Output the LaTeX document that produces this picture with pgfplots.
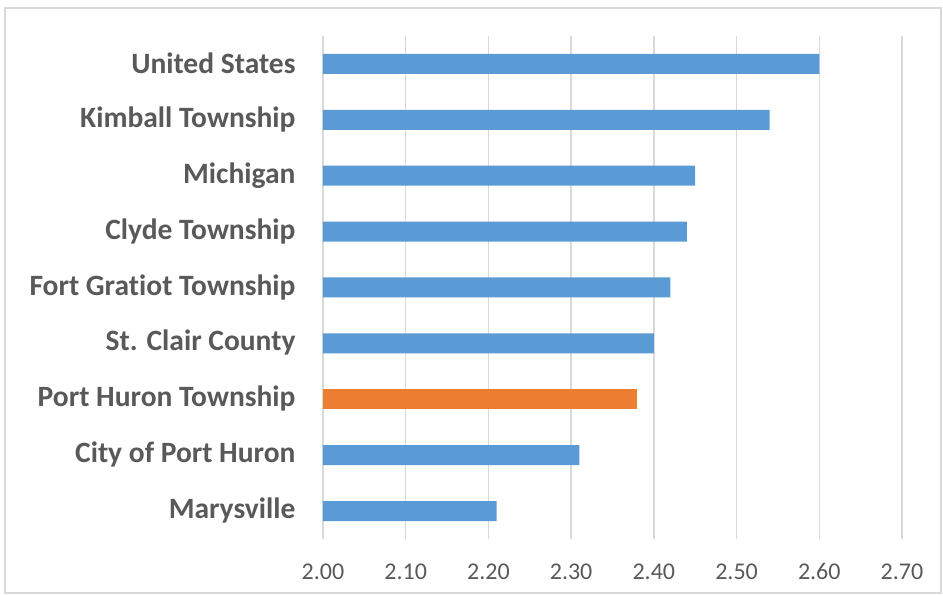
\documentclass[border=0pt]{standalone}
\usepackage{pgfplots}
\pgfplotsset{compat=1.18}
\usepackage{fontspec}
\setmainfont[RawFeature={-liga}]{Carlito}

\definecolor{barblue}{HTML}{5B9BD5}
\definecolor{barorange}{HTML}{ED7D31}
\definecolor{gridgrey}{HTML}{D9D9D9}
\definecolor{textgrey}{HTML}{595959}

\begin{document}
\begin{tikzpicture}
\path[use as bounding box] (-323pt,-57pt) rectangle (620pt,539pt);
\draw[gridgrey, line width=1.5pt] (-318pt,-54pt) rectangle (618pt,531pt);
\begin{axis}[
    at={(0pt,0pt)}, anchor=south west,
    width=579pt, height=503pt, scale only axis,
    xmin=2, xmax=2.7, ymin=-0.5, ymax=8.5,
    axis line style={draw=none},
    xtick={2,2.1,...,2.7},
    xmajorgrids, major grid style={gridgrey, line width=1.3pt},
    major tick length=0pt,
    xticklabel={\pgfmathprintnumber[fixed, fixed zerofill, precision=2]{\tick}},
    xticklabel style={font=\fontsize{24}{26}\selectfont, text=textgrey, yshift=-21pt},
    ytick={0,...,8},
    yticklabels={Marysville, City of Port Huron, Port Huron Township, St. Clair County,
                 Fort Gratiot Township, Clyde Township, Michigan, Kimball Township, United States},
    yticklabel style={font=\fontsize{29.5}{32}\bfseries\selectfont, text=textgrey, xshift=-24pt, yshift=0.5pt},
    /pgf/number format/assume math mode=true,
    xbar, bar width=20pt, bar shift=0pt,
    clip=true,
]
\addplot[fill=barblue, draw=none] coordinates {
    (2.21,0) (2.31,1) (2.40,3) (2.42,4) (2.44,5) (2.45,6) (2.54,7) (2.60,8)
};
\addplot[fill=barorange, draw=none] coordinates {
    (2.38,2)
};
\end{axis}
\end{tikzpicture}
\end{document}
